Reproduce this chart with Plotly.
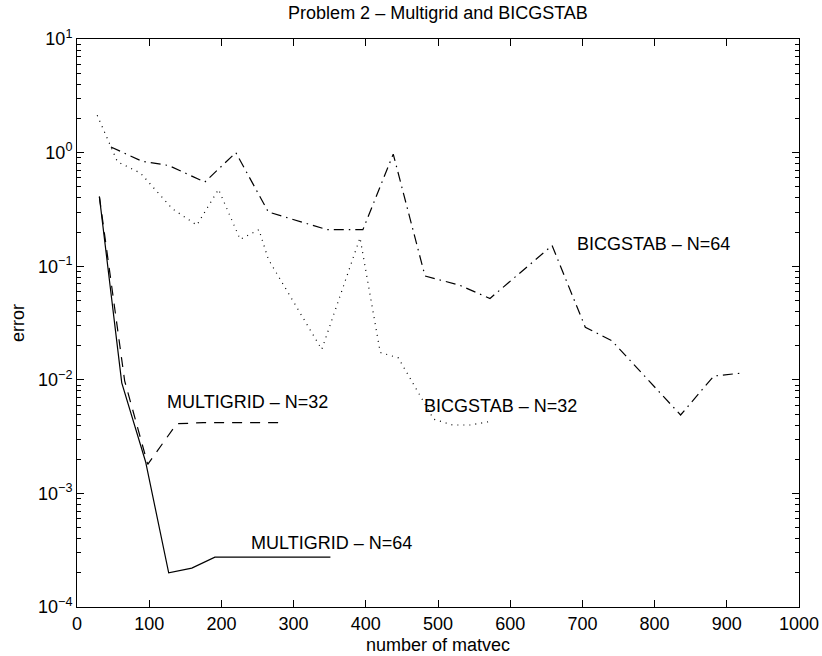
import plotly.graph_objects as go

# ---- data ----
mg64_x = [31, 62, 95, 127, 159, 191, 223, 255, 287, 319, 351]
mg64_y = [0.41, 0.0094, 0.0019, 0.000200, 0.000220, 0.000275, 0.000275,
          0.000275, 0.000275, 0.000275, 0.000275]

mg32_x = [31, 66, 98, 138, 175, 210, 245, 279]
mg32_y = [0.41, 0.0098, 0.0018, 0.0041, 0.0042, 0.0042, 0.0042, 0.0042]

bic32_x = [28, 56, 88, 132, 166, 196, 226, 252, 265, 339, 392, 420, 445,
           494, 520, 545, 572]
bic32_y = [2.13, 0.83, 0.66, 0.32, 0.23, 0.475, 0.172, 0.21, 0.115, 0.0185,
           0.178, 0.0174, 0.0156, 0.0045, 0.0040, 0.0040, 0.0043]

bic64_x = [47, 90, 127, 177, 220, 265, 346, 396, 438, 482, 530, 572, 658,
           704, 741, 836, 882, 923]
bic64_y = [1.12, 0.84, 0.77, 0.55, 1.0, 0.30, 0.21, 0.21, 0.97, 0.082,
           0.068, 0.052, 0.152, 0.029, 0.022, 0.0049, 0.0108, 0.0115]

x_ticks = list(range(0, 1001, 100))
y_exps = [-4, -3, -2, -1, 0, 1]
y_ticktext = ["10<sup>" + ("\u2212" + str(-e) if e < 0 else str(e)) + "</sup>" for e in y_exps]

labels = [
    ("MULTIGRID \u2013 N=32", 236, -2.197),
    ("MULTIGRID \u2013 N=64", 352, -3.436),
    ("BICGSTAB \u2013 N=32", 586, -2.233),
    ("BICGSTAB \u2013 N=64", 799, -0.808),
]

FONT = "Liberation Sans, Arial, Helvetica, sans-serif"
FS = 18

W, H = 822, 656
ML, MR, MT, MB = 77, 23, 39, 49
PW, PH = W - ML - MR, H - MT - MB

fig = go.Figure()
fig.add_trace(go.Scatter(x=mg64_x, y=mg64_y, mode="lines",
                         line=dict(color="black", width=1.2), name="MG64"))
fig.add_trace(go.Scatter(x=mg32_x, y=mg32_y, mode="lines",
                         line=dict(color="black", width=1.2, dash="10px,8px"), name="MG32"))
fig.add_trace(go.Scatter(x=bic32_x, y=bic32_y, mode="lines",
                         line=dict(color="black", width=1.2, dash="1px,5px"), name="BIC32"))
fig.add_trace(go.Scatter(x=bic64_x, y=bic64_y, mode="lines",
                         line=dict(color="black", width=1.2, dash="10px,5px,1.5px,5px"), name="BIC64"))

minor_vals = [k * 10.0 ** e for e in range(-4, 1) for k in range(2, 10)]

fig.update_layout(
    template="none",
    width=W, height=H,
    margin=dict(l=ML, r=MR, t=MT, b=MB, pad=0, autoexpand=False),
    paper_bgcolor="white", plot_bgcolor="white",
    showlegend=False,
    font=dict(family=FONT, size=FS, color="black"),
    title=dict(text="Problem 2 \u2013 Multigrid and BICGSTAB", x=438 / W, xanchor="center",
               y=1 - 13 / H, yanchor="middle", yref="container",
               font=dict(family=FONT, size=FS, color="black")),
    xaxis=dict(range=[0, 1000], tickmode="array", tickvals=x_ticks, automargin=False,
               ticks="inside", ticklen=7, tickwidth=1, tickcolor="black",
               showline=True, linecolor="black", linewidth=1, mirror="ticks",
               showgrid=False, zeroline=False,
               tickfont=dict(family=FONT, size=FS, color="black")),
    yaxis=dict(type="log", range=[-4, 1], tickmode="array", automargin=False,
               tickvals=[10.0 ** e for e in y_exps], ticktext=y_ticktext,
               ticks="inside", ticklen=7, tickwidth=1, tickcolor="black",
               minor=dict(tickmode="array", tickvals=minor_vals, ticks="inside",
                          ticklen=4, tickwidth=1, tickcolor="black", showgrid=False),
               showline=True, linecolor="black", linewidth=1, mirror="ticks",
               showgrid=False, zeroline=False,
               tickfont=dict(family=FONT, size=FS, color="black")),
)

for text, xv, yv in labels:
    fig.add_annotation(x=xv, y=yv, xref="x", yref="y", text=text, showarrow=False,
                       xanchor="center", yanchor="middle",
                       font=dict(family=FONT, size=FS, color="black"))

# axis titles (paper coords are relative to the plot area)
fig.add_annotation(x=(438 - ML) / PW, y=(H - MB - 645) / PH, xref="paper", yref="paper",
                   text="number of matvec", showarrow=False,
                   xanchor="center", yanchor="middle",
                   font=dict(family=FONT, size=FS, color="black"))
fig.add_annotation(x=(18 - ML) / PW, y=(H - MB - 323) / PH, xref="paper", yref="paper",
                   text="error", showarrow=False, textangle=-90,
                   xanchor="center", yanchor="middle",
                   font=dict(family=FONT, size=FS, color="black"))

fig.write_html("out.html")
